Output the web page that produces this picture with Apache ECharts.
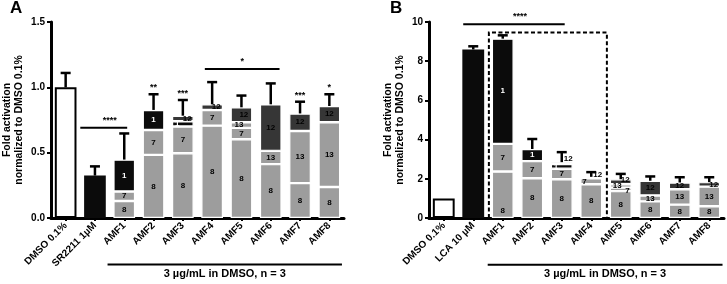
<!DOCTYPE html>
<html><head><meta charset="utf-8">
<script src="https://cdn.jsdelivr.net/npm/echarts@6/dist/echarts.min.js"></script>
<style>html,body{margin:0;padding:0;background:#fff}#c{width:727px;height:284px}</style>
</head><body><div id="c"></div>
<script>
// ---------- Panel A data ----------
const catsA = ['DMSO 0.1%','SR2211 1µM','AMF1','AMF2','AMF3','AMF4','AMF5','AMF6','AMF7','AMF8'];
const openA  = [1.00, null, null, null, null, null, null, null, null, null];
const solidA = [null, 0.325, null, null, null, null, null, null, null, null];
const segA8  = [null, null, 0.130, 0.483, 0.496, 0.707, 0.603, 0.412, 0.267, 0.237];
const segA7  = [null, null, 0.073, 0.191, 0.204, 0.120, 0.087, null, null, null];
const segA13 = [null, null, null, null, null, null, 0.043, 0.102, 0.399, 0.496];
const segA1  = [null, null, 0.244, 0.153, 0.040, null, null, null, null, null];
const segA12 = [null, null, null, null, 0.043, 0.043, 0.114, 0.356, 0.134, 0.124];
const errA   = [0.11, 0.07, 0.20, 0.12, 0.12, 0.17, 0.09, 0.16, 0.09, 0.09];
const starsA = ['', '', '', '**', '***', '', '', '', '***', '*'];
const yTicksA = [0, 0.5, 1.0, 1.5];
const bracketsA = [{from:0.5, to:2.1, y:0.69, text:'****'}, {from:4.75, to:7.3, y:1.14, text:'*'}];
const groupA = {from:1.43, to:9.43, y:-0.356, text:'3 µg/mL in DMSO, n = 3'};

// ---------- Panel B data ----------
const catsB = ['DMSO 0.1%','LCA 10 µM','AMF1','AMF2','AMF3','AMF4','AMF5','AMF6','AMF7','AMF8'];
const openB  = [1.00, null, null, null, null, null, null, null, null, null];
const solidB = [null, 8.60, null, null, null, null, null, null, null, null];
const segB8  = [null, null, 2.37, 2.03, 1.98, 1.72, 1.37, 0.85, 0.68, 0.60];
const segB7  = [null, null, 1.41, 0.87, 0.53, 0.30, 0.18, null, null, null];
const segB13 = [null, null, null, null, null, null, 0.17, 0.30, 0.79, 1.00];
const segB1  = [null, null, 5.37, 0.62, 0.24, null, null, null, null, null];
const segB12 = [null, null, null, null, 0.10, 0.08, 0.26, 0.75, 0.34, 0.23];
const errB   = [0, 0.16, 0.17, 0.51, 0.51, 0.24, 0.27, 0.22, 0.27, 0.25];
const starsB = ['', '', '', '', '', '', '', '', '', ''];
const yTicksB = [0, 2, 4, 6, 8, 10];
const bracketsB = [{from:0.66, to:4.1, y:9.88, text:'****'}];
const boxB = {from:1.53, to:5.53, top:9.46};
const groupB = {from:1.49, to:9.45, y:-2.38, text:'3 µg/mL in DMSO, n = 3'};

// ---------- styling ----------
const FF = "'Liberation Sans', Arial, sans-serif";
const GRAY = '#9d9d9d', DARK = '#363636', BLACK = '#0b0b0b';
const labelOverA = {
  '1-4': {position:'insideLeft', offset:[-2,0]},
  '12-4': {position:'insideRight', offset:[3,0]},
  '12-5': {position:'inside', offset:[4,0]},
  '13-6': {position:'insideLeft', offset:[-1,0]},
  '12-6': {position:'insideRight', offset:[1,0]}
};
const labelOverB = {
  '8-2': {position:'insideBottom', offset:[0,2]},
  '1-4': {position:'insideLeft', offset:[-2,0]},
  '12-4': {position:'insideRight', offset:[5,-4]},
  '7-5': {position:'insideLeft', offset:[-3,0]},
  '12-5': {position:'insideRight', offset:[5,-3]},
  '13-6': {position:'insideLeft', offset:[-2,0]},
  '12-6': {position:'insideRight', offset:[3,-2]},
  '7-6': {position:'insideRight', offset:[3,1]},
  '12-9': {position:'insideRight', offset:[3,0]}
};

function sumAt(arrs, i){ let s=0; arrs.forEach(a=>{ if(a[i]!=null) s+=a[i]; }); return s; }

function segSeries(name, arr, color, txtColor, axisIdx, overrides){
  return {
    type:'bar', name:name, stack:'s'+axisIdx, xAxisIndex:axisIdx, yAxisIndex:axisIdx,
    barWidth:'74%',
    itemStyle:{color:color, borderColor:'#fff', borderWidth:1.2},
    label:{show:true, position:'inside', formatter:name, color:txtColor, fontSize:8, fontWeight:'bold', fontFamily:FF},
    data: arr.map((v,i)=>{
      if(v==null) return '-';
      const o = overrides[name+'-'+i];
      return o ? {value:v, label:o} : v;
    })
  };
}
function ctrlSeries(arr, open, axisIdx){
  return {
    type:'bar', stack:'s'+axisIdx, xAxisIndex:axisIdx, yAxisIndex:axisIdx, barWidth:'74%',
    itemStyle: open ? {color:'#fff', borderColor:'#000', borderWidth:2} : {color:BLACK},
    data: arr.map(v=> v==null ? '-' : v)
  };
}
function xAt(api, f, y){
  const p0 = api.coord([0, y]), p1 = api.coord([1, y]);
  return [p0[0] + f*(p1[0]-p0[0]), p0[1]];
}
function errSeries(totals, err, stars, axisIdx){
  return {
    type:'custom', xAxisIndex:axisIdx, yAxisIndex:axisIdx, clip:false, z:5,
    data: totals.map((t,i)=>[i, t+err[i]]),
    renderItem:function(params, api){
      const i = params.dataIndex;
      const ch = [];
      const base = api.coord([i, totals[i]]);
      const top = api.coord([i, totals[i]+err[i]]);
      if(err[i] > 0){
        ch.push({type:'line', shape:{x1:base[0], y1:base[1], x2:top[0], y2:top[1]}, style:{stroke:'#000', lineWidth:2.5}});
        ch.push({type:'line', shape:{x1:top[0]-5, y1:top[1], x2:top[0]+5, y2:top[1]}, style:{stroke:'#000', lineWidth:2.5}});
      }
      if(stars[i]){
        ch.push({type:'text', style:{text:stars[i], x:top[0], y:top[1]-2, align:'center', verticalAlign:'bottom', fill:'#000', fontSize:9, fontWeight:'bold', fontFamily:FF}});
      }
      return {type:'group', children:ch};
    }
  };
}
function annoSeries(brackets, group, box, axisIdx){
  const items = brackets.map(b=>({kind:'br', b:b})).concat([{kind:'grp', b:group}]);
  if(box) items.push({kind:'box', b:box});
  return {
    type:'custom', xAxisIndex:axisIdx, yAxisIndex:axisIdx, clip:false, z:6, silent:true,
    data: items.map(()=>[0, 0]),
    renderItem:function(params, api){
      const it = items[params.dataIndex], b = it.b;
      if(it.kind==='box'){
        const p1 = xAt(api, b.from, b.top), p2 = xAt(api, b.to, 0);
        return {type:'polyline', shape:{points:[[p1[0],p2[1]],[p1[0],p1[1]],[p2[0],p1[1]],[p2[0],p2[1]]]},
          style:{stroke:'#000', lineWidth:2, lineDash:[4,2.5], fill:null}};
      }
      const p1 = xAt(api, b.from, b.y), p2 = xAt(api, b.to, b.y);
      const ch = [{type:'line', shape:{x1:p1[0], y1:p1[1], x2:p2[0], y2:p2[1]}, style:{stroke:'#000', lineWidth:2}}];
      if(it.kind==='br'){
        ch.push({type:'text', style:{text:b.text, x:(p1[0]+p2[0])/2 + (b.text.length>1?6:0), y:p1[1]-3, align:'center', verticalAlign:'bottom', fill:'#000', fontSize:9, fontWeight:'bold', fontFamily:FF}});
      } else {
        ch.push({type:'text', style:{text:b.text, x:(p1[0]+p2[0])/2, y:p1[1]+4, align:'center', verticalAlign:'top', fill:'#000', fontSize:11, fontWeight:'bold', fontFamily:FF}});
      }
      return {type:'group', children:ch};
    }
  };
}

const segsA = [segA8, segA7, segA13, segA1, segA12, openA, solidA];
const segsB = [segB8, segB7, segB13, segB1, segB12, openB, solidB];
const totA = catsA.map((c,i)=>sumAt(segsA,i));
const totB = catsB.map((c,i)=>sumAt(segsB,i));

function xAxisCfg(cats, idx){
  return {type:'category', gridIndex:idx, data:cats,
    axisLine:{lineStyle:{color:'#000', width:3}},
    axisTick:{show:true, alignWithLabel:true, length:3, lineStyle:{color:'#000', width:2}},
    axisLabel:{interval:0, rotate:45, margin:6, color:'#000', fontSize:10, fontWeight:'bold', fontFamily:FF},
    splitLine:{show:false}};
}
function yAxisCfg(ticks, idx, gap, dec){
  return {type:'value', gridIndex:idx, min:ticks[0], max:ticks[ticks.length-1], interval:ticks[1]-ticks[0],
    name:'Fold activation\nnormalized to DMSO 0.1%', nameLocation:'middle', nameRotate:90, nameGap:gap,
    nameTextStyle:{color:'#000', fontSize:10.5, fontWeight:'bold', fontFamily:FF, lineHeight:12},
    axisLine:{show:true, lineStyle:{color:'#000', width:3}},
    axisTick:{show:true, length:4, lineStyle:{color:'#000', width:2}},
    axisLabel:{margin:6, color:'#000', fontSize:10, fontWeight:'bold', fontFamily:FF, formatter:v=>v.toFixed(dec)},
    splitLine:{show:false}};
}

const option = {
  animation:false,
  backgroundColor:'#fff',
  textStyle:{fontFamily:FF},
  title:[
    {text:'A', left:10, top:0, padding:0, textStyle:{fontSize:17, fontWeight:'bold', color:'#000', fontFamily:FF}},
    {text:'B', left:390, top:0, padding:0, textStyle:{fontSize:17, fontWeight:'bold', color:'#000', fontFamily:FF}}
  ],
  grid:[
    {left:49, right:383, top:22, bottom:66},
    {left:429, right:3, top:22, bottom:66}
  ],
  xAxis:[xAxisCfg(catsA,0), xAxisCfg(catsB,1)],
  yAxis:[yAxisCfg(yTicksA,0,26,1), yAxisCfg(yTicksB,1,23,0)],
  series:[
    ctrlSeries(openA, true, 0), ctrlSeries(solidA, false, 0),
    segSeries('8', segA8, GRAY, '#000', 0, labelOverA),
    segSeries('7', segA7, GRAY, '#000', 0, labelOverA),
    segSeries('13', segA13, GRAY, '#000', 0, labelOverA),
    segSeries('1', segA1, BLACK, '#fff', 0, labelOverA),
    segSeries('12', segA12, DARK, '#000', 0, labelOverA),
    errSeries(totA, errA, starsA, 0),
    annoSeries(bracketsA, groupA, null, 0),
    ctrlSeries(openB, true, 1), ctrlSeries(solidB, false, 1),
    segSeries('8', segB8, GRAY, '#000', 1, labelOverB),
    segSeries('7', segB7, GRAY, '#000', 1, labelOverB),
    segSeries('13', segB13, GRAY, '#000', 1, labelOverB),
    segSeries('1', segB1, BLACK, '#fff', 1, labelOverB),
    segSeries('12', segB12, DARK, '#000', 1, labelOverB),
    errSeries(totB, errB, starsB, 1),
    annoSeries(bracketsB, groupB, boxB, 1)
  ]
};
const chart = echarts.init(document.getElementById('c'), null, {renderer:'canvas'});
chart.setOption(option);
</script></body></html>
